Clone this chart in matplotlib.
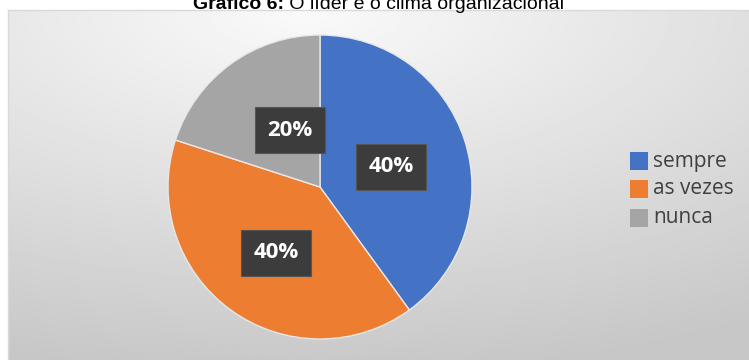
import numpy as np
import matplotlib
matplotlib.use('Agg')
from matplotlib import pyplot as plt

categorias = ['sempre', 'as vezes', 'nunca']
valores = [40, 40, 20]
cores = ['#4472c4', '#ed7d31', '#a5a5a5']
titulo_bold = 'Gráfico 6:'
titulo_resto = ' O líder e o clima organizacional'

fig = plt.figure(figsize=(7.49, 3.6), dpi=100)

# fundo com gradiente (estilo Excel)
bg = fig.add_axes([8 / 749, 0, 741 / 749, 350 / 360])
yy, xx = np.mgrid[0:1:200j, 0:1:400j]
r = np.sqrt((xx - 0.4) ** 2 + (yy * 1.1) ** 2)
g = 0.98 - 0.2 * np.clip(r / 1.15, 0, 1)
bg.imshow(g, cmap='gray', vmin=0, vmax=1, aspect='auto', extent=[0, 1, 0, 1], origin='upper')
bg.set_axis_off()
fig.add_artist(plt.Line2D([8 / 749, 1], [350 / 360, 350 / 360], color='#d9d9d9', lw=1))
fig.add_artist(plt.Line2D([8 / 749, 8 / 749], [0, 350 / 360], color='#d9d9d9', lw=1))

# pizza
cx, cy, rad = 320, 187, 152
ax = fig.add_axes([(cx - rad) / 749, (360 - cy - rad) / 360, 2 * rad / 749, 2 * rad / 360])
wedges, _ = ax.pie(valores, colors=cores, startangle=90, counterclock=False,
                   wedgeprops=dict(linewidth=1, edgecolor='#e8e8e8'))
ax.set_xlim(-1, 1)
ax.set_ylim(-1, 1)
ax.set_aspect('auto')

# rótulos com caixa escura
pos = [(391, 167), (276, 253), (290, 130)]
for (px, py), v in zip(pos, valores):
    fig.text(px / 749, 1 - py / 360, f'{v}%', ha='center', va='center', color='white',
             fontsize=16, fontweight='bold', family='Open Sans',
             bbox=dict(boxstyle='square,pad=0.55', fc='#3c3c3c', ec='#555555', lw=0.8))

# legenda
leg_y = [161, 189, 218]
for nome, cor, ly in zip(categorias, cores, leg_y):
    fig.patches.append(plt.Rectangle((630 / 749, 1 - (ly + 9) / 360), 18 / 749, 18 / 360,
                                     transform=fig.transFigure, fc=cor, ec='none'))
    fig.text(653 / 749, 1 - ly / 360, nome, ha='left', va='center', fontsize=15,
             family='Open Sans', color='#404040')

# título (cortado no topo, como no original)
ty = 1 - 9 / 360
t1 = fig.text(375 / 749, ty, titulo_bold + titulo_resto, ha='center', va='baseline',
              fontsize=14, family='Liberation Sans', color='black', alpha=0)
fig.canvas.draw()
bb = t1.get_window_extent()
tb = fig.text(bb.x0 / fig.bbox.width, ty, titulo_bold, ha='left', va='baseline', fontsize=14,
              fontweight='bold', family='Liberation Sans')
fig.canvas.draw()
bb2 = tb.get_window_extent()
fig.text(bb2.x1 / fig.bbox.width, ty, titulo_resto, ha='left', va='baseline',
         fontsize=14, family='Liberation Sans')

fig.savefig('out.png', dpi=100)
